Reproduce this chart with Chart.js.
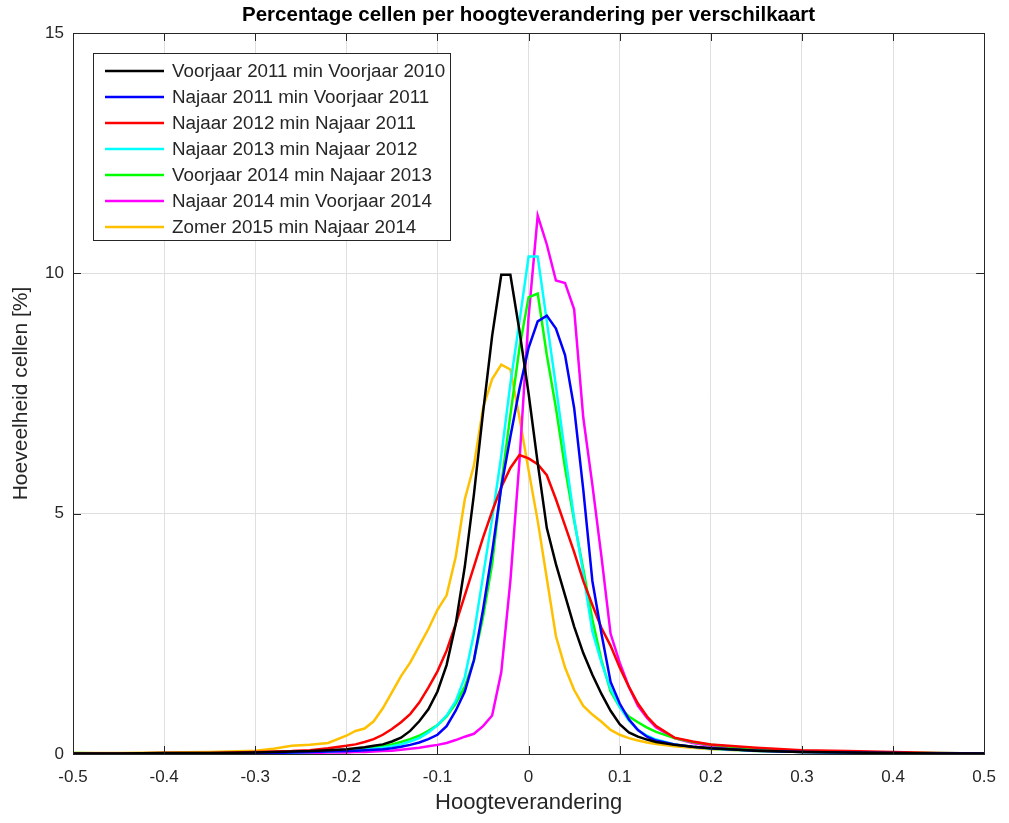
<!DOCTYPE html>
<html>
<head>
<meta charset="utf-8">
<script src="https://cdn.jsdelivr.net/npm/chart.js@4.4.1/dist/chart.umd.min.js"></script>
<style>
  html, body { margin: 0; padding: 0; background: #fff; }
  #wrap { width: 1009px; height: 823px; position: relative; }
</style>
</head>
<body>
<div id="wrap"><canvas id="grafiek"></canvas></div>
<script>
// hoogteverandering (x-as), gedeeld door alle reeksen
const hoogte = [-0.5, -0.45, -0.4, -0.35, -0.3, -0.28, -0.26, -0.24, -0.22,
  -0.2, -0.19, -0.18, -0.17, -0.16, -0.15, -0.14, -0.13, -0.12, -0.11, -0.1,
  -0.09, -0.08, -0.07, -0.06, -0.05, -0.04, -0.03, -0.02, -0.01, 0,
  0.01, 0.02, 0.03, 0.04, 0.05, 0.06, 0.07, 0.08, 0.09, 0.1,
  0.11, 0.12, 0.13, 0.14, 0.16, 0.18, 0.2, 0.25, 0.3, 0.35, 0.4, 0.45, 0.5];

const voorjaar2011 = [0.01, 0.01, 0.02, 0.02, 0.03, 0.04, 0.05, 0.06, 0.08,
  0.1, 0.12, 0.14, 0.17, 0.2, 0.26, 0.34, 0.48, 0.68, 0.93, 1.3,
  1.85, 2.7, 3.9, 5.4, 7.1, 8.7, 9.97, 9.97, 8.8, 7.5,
  6.05, 4.7, 3.95, 3.3, 2.65, 2.1, 1.65, 1.25, 0.9, 0.62,
  0.45, 0.36, 0.3, 0.25, 0.19, 0.15, 0.12, 0.07, 0.04, 0.03, 0.02, 0.01, 0.01];

const najaar2011 = [0, 0, 0.01, 0.01, 0.02, 0.02, 0.03, 0.04, 0.05,
  0.06, 0.07, 0.08, 0.09, 0.1, 0.12, 0.15, 0.19, 0.24, 0.31, 0.4,
  0.58, 0.9, 1.3, 1.95, 3.0, 4.2, 5.55, 6.6, 7.6, 8.45,
  9.0, 9.12, 8.85, 8.3, 7.2, 5.5, 3.6, 2.5, 1.5, 1.05,
  0.72, 0.5, 0.36, 0.28, 0.2, 0.15, 0.12, 0.07, 0.04, 0.03, 0.02, 0.01, 0.01];

const najaar2012 = [0.01, 0.01, 0.02, 0.02, 0.04, 0.05, 0.06, 0.08, 0.12,
  0.17, 0.2, 0.25, 0.31, 0.4, 0.52, 0.66, 0.83, 1.07, 1.38, 1.72,
  2.15, 2.7, 3.3, 3.9, 4.5, 5.05, 5.55, 5.95, 6.22, 6.15,
  6.03, 5.8, 5.3, 4.75, 4.2, 3.6, 3.1, 2.62, 2.25, 1.8,
  1.4, 1.05, 0.78, 0.58, 0.34, 0.26, 0.2, 0.13, 0.08, 0.06, 0.04, 0.02, 0.01];

const najaar2013 = [0, 0, 0.01, 0.01, 0.02, 0.02, 0.03, 0.04, 0.05,
  0.07, 0.08, 0.09, 0.11, 0.13, 0.16, 0.2, 0.26, 0.33, 0.45, 0.6,
  0.8, 1.1, 1.6, 2.5, 3.7, 4.9, 6.2, 7.7, 9.0, 10.35,
  10.35, 9.0, 7.65, 6.25, 4.9, 3.75, 2.55, 1.9, 1.35, 0.98,
  0.7, 0.5, 0.38, 0.3, 0.2, 0.15, 0.11, 0.06, 0.04, 0.02, 0.01, 0.01, 0];

const voorjaar2014 = [0.02, 0.01, 0.01, 0.01, 0.02, 0.03, 0.04, 0.05, 0.06,
  0.08, 0.09, 0.11, 0.13, 0.16, 0.2, 0.25, 0.31, 0.38, 0.48, 0.6,
  0.78, 1.05, 1.4, 1.95, 2.85, 3.95, 5.6, 7.05, 8.45, 9.5,
  9.58, 8.3, 7.2, 5.95, 4.85, 3.85, 2.8, 1.95, 1.3, 0.98,
  0.78, 0.66, 0.55, 0.46, 0.33, 0.25, 0.19, 0.1, 0.06, 0.04, 0.03, 0.02, 0.01];

const najaar2014 = [0, 0, 0, 0.01, 0.01, 0.01, 0.02, 0.02, 0.03,
  0.03, 0.04, 0.04, 0.05, 0.06, 0.07, 0.09, 0.11, 0.13, 0.16, 0.19,
  0.23, 0.29, 0.36, 0.42, 0.58, 0.8, 1.7, 3.6, 6.1, 9.1,
  11.2, 10.6, 9.85, 9.8, 9.25, 7.0, 5.6, 4.1, 2.5, 1.9,
  1.4, 1.0, 0.75, 0.55, 0.33, 0.23, 0.17, 0.09, 0.05, 0.03, 0.02, 0.01, 0];

const zomer2015 = [0.02, 0.02, 0.03, 0.04, 0.07, 0.11, 0.17, 0.19, 0.23,
  0.38, 0.48, 0.53, 0.68, 0.95, 1.28, 1.62, 1.9, 2.25, 2.6, 3.0,
  3.3, 4.1, 5.3, 6.0, 7.2, 7.8, 8.1, 8.0, 7.0, 5.9,
  4.85, 3.65, 2.45, 1.8, 1.33, 1.0, 0.82, 0.67, 0.5, 0.4,
  0.33, 0.28, 0.24, 0.21, 0.16, 0.13, 0.1, 0.06, 0.04, 0.03, 0.02, 0.01, 0.01];

const reeksNamen = [
  "Voorjaar 2011 min Voorjaar 2010",
  "Najaar 2011 min Voorjaar 2011",
  "Najaar 2012 min Najaar 2011",
  "Najaar 2013 min Najaar 2012",
  "Voorjaar 2014 min Najaar 2013",
  "Najaar 2014 min Voorjaar 2014",
  "Zomer 2015 min Najaar 2014"
];
const reeksen = [voorjaar2011, najaar2011, najaar2012, najaar2013, voorjaar2014, najaar2014, zomer2015];
const kleuren = ["#000000", "#0000ff", "#ff0000", "#00ffff", "#00ff00", "#ff00ff", "#ffc000"];

const tekstKleur = "#262626";
const lettertype = "'Liberation Sans', Arial, sans-serif";

// kader, naar binnen gerichte tickjes, titel en legenda (MATLAB-stijl)
const kaderPlugin = {
  id: "kader",
  afterDraw(chart) {
    const { ctx, chartArea: a, scales } = chart;
    ctx.save();
    ctx.strokeStyle = tekstKleur;
    ctx.lineWidth = 1;
    ctx.beginPath();
    scales.x.ticks.forEach(t => {
      const px = Math.round(scales.x.getPixelForValue(t.value)) + 0.5;
      ctx.moveTo(px, a.bottom); ctx.lineTo(px, a.bottom - 8);
      ctx.moveTo(px, a.top); ctx.lineTo(px, a.top + 8);
    });
    scales.y.ticks.forEach(t => {
      const py = Math.round(scales.y.getPixelForValue(t.value)) + 0.5;
      ctx.moveTo(a.left, py); ctx.lineTo(a.left + 8, py);
      ctx.moveTo(a.right, py); ctx.lineTo(a.right - 8, py);
    });
    ctx.stroke();
    ctx.strokeRect(Math.round(a.left) + 0.5, Math.round(a.top) + 0.5,
      Math.round(a.right - a.left), Math.round(a.bottom - a.top));

    // titel
    ctx.fillStyle = "#000";
    ctx.font = "bold 20.5px " + lettertype;
    ctx.textAlign = "center";
    ctx.textBaseline = "middle";
    ctx.fillText("Percentage cellen per hoogteverandering per verschilkaart", (a.left + a.right) / 2, 15);

    // legenda
    const lx = 93, ly = 53, lw = 357, lh = 187;
    ctx.fillStyle = "#fff";
    ctx.fillRect(lx, ly, lw, lh);
    ctx.strokeStyle = tekstKleur;
    ctx.strokeRect(lx + 0.5, ly + 0.5, lw, lh);
    ctx.font = "18.8px " + lettertype;
    ctx.textAlign = "left";
    chart.data.datasets.forEach((ds, i) => {
      const y = ly + 18 + i * 26;
      ctx.strokeStyle = ds.borderColor;
      ctx.lineWidth = 2.5;
      ctx.beginPath();
      ctx.moveTo(105, y); ctx.lineTo(164, y);
      ctx.stroke();
      ctx.fillStyle = tekstKleur;
      ctx.fillText(ds.label, 172, y + 1);
    });
    ctx.restore();
  }
};

new Chart(document.getElementById("grafiek"), {
  type: "line",
  data: {
    datasets: reeksen.map((r, i) => ({
      label: reeksNamen[i],
      data: hoogte.map((x, j) => ({ x: x, y: r[j] })),
      borderColor: kleuren[i],
      backgroundColor: kleuren[i],
      borderWidth: 2.5,
      pointRadius: 0,
      tension: 0,
      fill: false
    }))
  },
  options: {
    responsive: true,
    maintainAspectRatio: false,
    animation: false,
    layout: { padding: { top: 33, right: 24, left: 0, bottom: 0 } },
    plugins: {
      legend: { display: false },
      title: { display: false },
      tooltip: { enabled: false }
    },
    scales: {
      x: {
        type: "linear",
        min: -0.5,
        max: 0.5,
        afterFit(s) { s.height = 69; },
        grid: { color: "#dfdfdf", drawTicks: false },
        border: { display: false },
        ticks: {
          stepSize: 0.1,
          padding: 13,
          color: tekstKleur,
          font: { family: lettertype, size: 17 },
          callback: v => String(Number(v.toFixed(1)))
        },
        title: {
          display: true,
          text: "Hoogteverandering",
          color: tekstKleur,
          font: { family: lettertype, size: 22 },
          padding: { top: 0, bottom: 7 }
        }
      },
      y: {
        min: 0,
        max: 15,
        afterFit(s) { s.width = 73; },
        grid: { color: "#dfdfdf", drawTicks: false },
        border: { display: false },
        ticks: {
          stepSize: 5,
          padding: 9,
          color: tekstKleur,
          font: { family: lettertype, size: 17 }
        },
        title: {
          display: true,
          text: "Hoeveelheid cellen [%]",
          color: tekstKleur,
          font: { family: lettertype, size: 21 },
          padding: { top: 9, bottom: 0 }
        }
      }
    }
  },
  plugins: [kaderPlugin]
});
</script>
</body>
</html>
